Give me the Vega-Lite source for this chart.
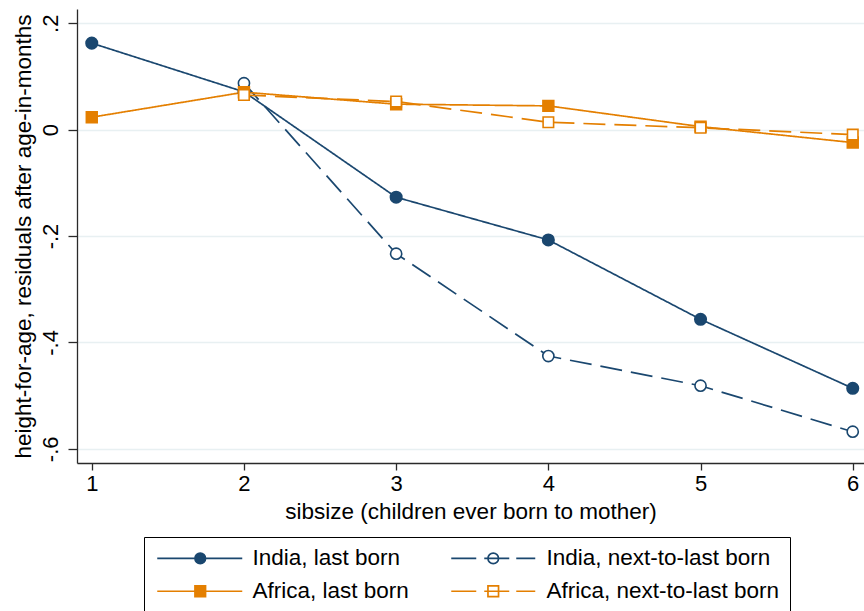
{
  "$schema": "https://vega.github.io/schema/vega-lite/v6.json",
  "width": 787,
  "height": 454,
  "autosize": {"type": "none"},
  "padding": {"left": 77, "top": 9, "right": 0, "bottom": 148},
  "background": "white",
  "config": {
    "view": {"stroke": null},
    "font": "Liberation Sans",
    "axis": {
      "labelFont": "Liberation Sans",
      "titleFont": "Liberation Sans",
      "labelColor": "#000000",
      "titleColor": "#000000",
      "titleFontWeight": "normal",
      "labelFontSize": 22,
      "titleFontSize": 22.5,
      "domainColor": "#2a2a2a",
      "tickColor": "#2a2a2a",
      "domainWidth": 1.3,
      "tickWidth": 1.3
    }
  },
  "data": {
    "values": [
      {"series": "India, last born", "sibsize": 1, "resid": 0.1625},
      {"series": "India, last born", "sibsize": 2, "resid": 0.071},
      {"series": "India, last born", "sibsize": 3, "resid": -0.1271},
      {"series": "India, last born", "sibsize": 4, "resid": -0.2074},
      {"series": "India, last born", "sibsize": 5, "resid": -0.3566},
      {"series": "India, last born", "sibsize": 6, "resid": -0.4863},
      {"series": "India, next-to-last born", "sibsize": 2, "resid": 0.0873},
      {"series": "India, next-to-last born", "sibsize": 3, "resid": -0.2332},
      {"series": "India, next-to-last born", "sibsize": 4, "resid": -0.4256},
      {"series": "India, next-to-last born", "sibsize": 5, "resid": -0.4814},
      {"series": "India, next-to-last born", "sibsize": 6, "resid": -0.5679},
      {"series": "Africa, last born", "sibsize": 1, "resid": 0.0233},
      {"series": "Africa, last born", "sibsize": 2, "resid": 0.0703},
      {"series": "Africa, last born", "sibsize": 3, "resid": 0.0478},
      {"series": "Africa, last born", "sibsize": 4, "resid": 0.0446},
      {"series": "Africa, last born", "sibsize": 5, "resid": 0.0056},
      {"series": "Africa, last born", "sibsize": 6, "resid": -0.0244},
      {"series": "Africa, next-to-last born", "sibsize": 2, "resid": 0.065},
      {"series": "Africa, next-to-last born", "sibsize": 3, "resid": 0.0527},
      {"series": "Africa, next-to-last born", "sibsize": 4, "resid": 0.0139},
      {"series": "Africa, next-to-last born", "sibsize": 5, "resid": 0.0035},
      {"series": "Africa, next-to-last born", "sibsize": 6, "resid": -0.0095}
    ]
  },
  "encoding": {
    "x": {
      "field": "sibsize",
      "type": "quantitative",
      "scale": {"domain": [0.903, 6.074], "nice": false, "zero": false},
      "axis": {
        "values": [1, 2, 3, 4, 5, 6],
        "format": "d",
        "title": "sibsize (children ever born to mother)",
        "grid": false,
        "tickSize": 7,
        "labelPadding": 3,
        "titlePadding": 6
      }
    },
    "y": {
      "field": "resid",
      "type": "quantitative",
      "scale": {"domain": [-0.6267, 0.2267], "nice": false, "zero": false},
      "axis": {
        "values": [-0.6, -0.4, -0.2, 0, 0.2],
        "labelExpr": "datum.value == 0 ? '0' : (datum.value < 0 ? '-' : '') + '.' + round(abs(datum.value) * 10)",
        "title": "height-for-age, residuals after age-in-months",
        "grid": true,
        "gridColor": "#e8f0f2",
        "gridWidth": 1.3,
        "tickSize": 9,
        "labelAngle": 270,
        "labelAlign": "center",
        "labelBaseline": "alphabetic",
        "labelPadding": 11,
        "titlePadding": 4
      }
    }
  },
  "layer": [
    {
      "mark": {"type": "line", "strokeWidth": 1.7},
      "encoding": {
        "color": {
          "field": "series",
          "type": "nominal",
          "scale": {
            "domain": ["India, last born", "India, next-to-last born", "Africa, last born", "Africa, next-to-last born"],
            "range": ["#1a476f", "#1a476f", "#e47f00", "#e47f00"]
          },
          "legend": {
            "orient": "none",
            "legendX": 67,
            "legendY": 528,
            "columns": 2,
            "direction": "horizontal",
            "title": null,
            "strokeColor": "#000000",
            "padding": 10,
            "labelFont": "Liberation Sans",
            "labelFontSize": 22.5,
            "labelColor": "#000000",
            "labelLimit": 500,
            "symbolSize": 256,
            "symbolStrokeWidth": 1.7,
            "labelOffset": 76,
            "columnPadding": 38,
            "rowPadding": 10,
            "encode": {
              "symbols": {
                "update": {
                  "shape": {"signal": "datum.value === 'India, last born' ? 'M-1,0L9.625,0M5.035,0A0.66,0.66,0,1,1,3.715,0A0.66,0.66,0,1,1,5.035,0Z' : datum.value === 'Africa, last born' ? 'M-1,0L9.625,0M3.715,-0.66L5.035,-0.66L5.035,0.66L3.715,0.66Z' : datum.value === 'India, next-to-last born' ? 'M-1,0L2.125,0M3.125,0L6.25,0M7.125,0L9.5,0M4.91,0A0.66,0.66,0,1,1,3.59,0A0.66,0.66,0,1,1,4.91,0Z' : 'M-1,0L2.125,0M3.125,0L6.25,0M7.125,0L9.5,0M3.59,-0.66L4.91,-0.66L4.91,0.66L3.59,0.66Z'"},
                  "fill": {"signal": "datum.value === 'India, last born' ? '#1a476f' : datum.value === 'Africa, last born' ? '#e47f00' : 'transparent'"}
                }
              }
            }
          }
        },
        "strokeDash": {
          "field": "series",
          "type": "nominal",
          "scale": {
            "domain": ["India, next-to-last born", "India, last born", "Africa, last born", "Africa, next-to-last born"],
            "range": [[22, 9], [1, 0], [1, 0], [22, 9]]
          },
          "legend": null
        }
      }
    },
    {
      "mark": {"type": "point", "strokeWidth": 1.6, "opacity": 1},
      "encoding": {
        "shape": {
          "field": "series",
          "type": "nominal",
          "scale": {
            "domain": ["Africa, last born", "Africa, next-to-last born", "India, last born", "India, next-to-last born"],
            "range": ["square", "square", "circle", "circle"]
          },
          "legend": null
        },
        "size": {
          "field": "series",
          "type": "nominal",
          "scale": {
            "domain": ["Africa, next-to-last born", "Africa, last born", "India, next-to-last born", "India, last born"],
            "range": [110, 132, 100, 110]
          },
          "legend": null
        },
        "fill": {
          "field": "series",
          "type": "nominal",
          "scale": {
            "domain": ["India, last born", "Africa, last born", "India, next-to-last born", "Africa, next-to-last born"],
            "range": ["#1a476f", "#e47f00", "#ffffff", "#ffffff"]
          },
          "legend": null
        },
        "stroke": {
          "field": "series",
          "type": "nominal",
          "scale": {
            "domain": ["Africa, next-to-last born", "India, next-to-last born", "Africa, last born", "India, last born"],
            "range": ["#e47f00", "#1a476f", "#e47f00", "#1a476f"]
          },
          "legend": null
        }
      }
    }
  ]
}
